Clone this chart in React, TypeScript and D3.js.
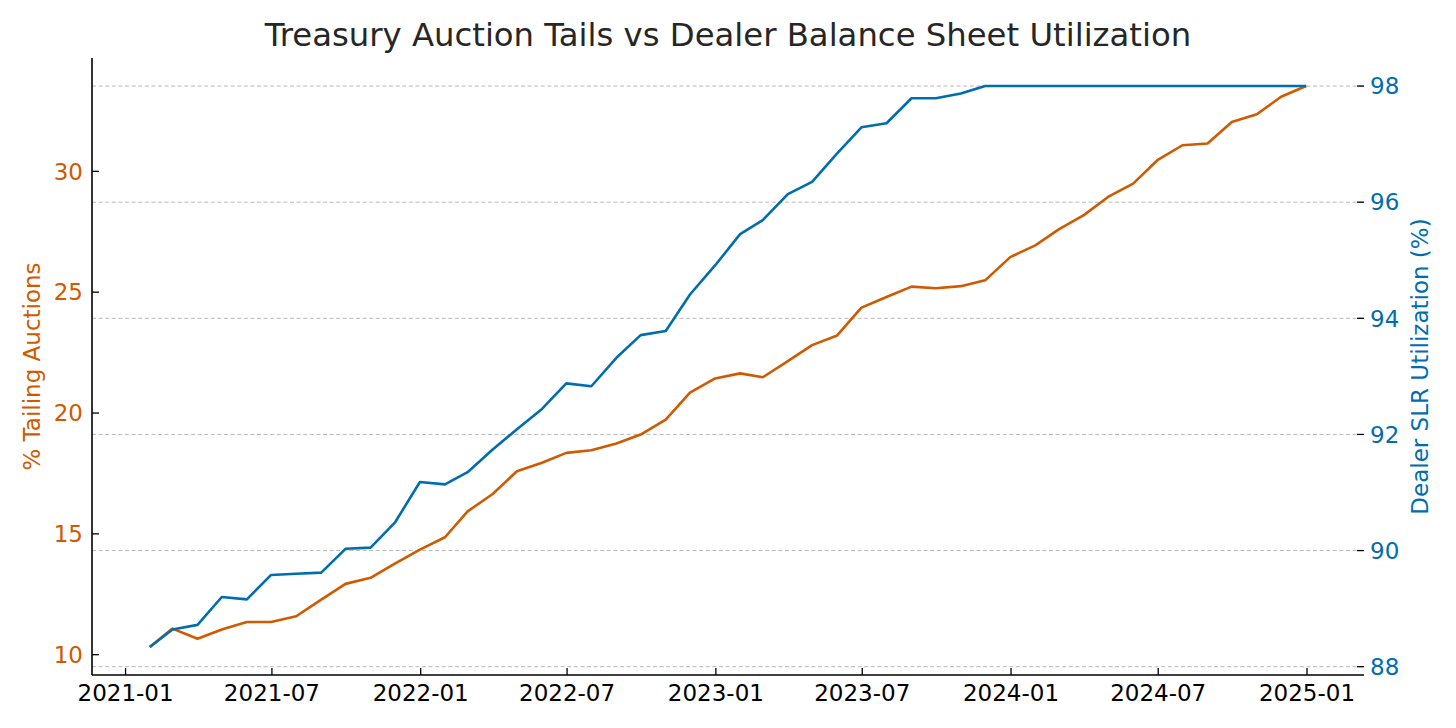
import React from "react";
import * as d3 from "d3";

const months: string[] = [
  "2021-01-31","2021-02-28","2021-03-31","2021-04-30","2021-05-31","2021-06-30",
  "2021-07-31","2021-08-31","2021-09-30","2021-10-31","2021-11-30","2021-12-31",
  "2022-01-31","2022-02-28","2022-03-31","2022-04-30","2022-05-31","2022-06-30",
  "2022-07-31","2022-08-31","2022-09-30","2022-10-31","2022-11-30","2022-12-31",
  "2023-01-31","2023-02-28","2023-03-31","2023-04-30","2023-05-31","2023-06-30",
  "2023-07-31","2023-08-31","2023-09-30","2023-10-31","2023-11-30","2023-12-31",
  "2024-01-31","2024-02-29","2024-03-31","2024-04-30","2024-05-31","2024-06-30",
  "2024-07-31","2024-08-31","2024-09-30","2024-10-31","2024-11-30","2024-12-31",
];

const tailingPct: number[] = [
  10.32, 11.08, 10.66, 11.04, 11.35, 11.35, 11.59, 12.28, 12.93, 13.18, 13.77, 14.35,
  14.86, 15.93, 16.65, 17.59, 17.94, 18.35, 18.46, 18.74, 19.11, 19.73, 20.84, 21.43,
  21.64, 21.48, 22.15, 22.81, 23.21, 24.36, 24.8, 25.23, 25.16, 25.25, 25.49, 26.45,
  26.94, 27.6, 28.19, 28.94, 29.49, 30.46, 31.08, 31.15, 32.04, 32.36, 33.09, 33.53,
];

const slrUtil: number[] = [
  88.34, 88.64, 88.72, 89.2, 89.16, 89.58, 89.6, 89.62, 90.03, 90.05, 90.48, 91.18,
  91.14, 91.35, 91.74, 92.09, 92.44, 92.88, 92.83, 93.32, 93.71, 93.78, 94.41, 94.91,
  95.45, 95.69, 96.14, 96.35, 96.84, 97.29, 97.36, 97.79, 97.79, 97.87, 98.0, 98.0,
  98.0, 98.0, 98.0, 98.0, 98.0, 98.0, 98.0, 98.0, 98.0, 98.0, 98.0, 98.0,
];

const leftTicks: number[] = [10, 15, 20, 25, 30];
const rightTicks: number[] = [88, 90, 92, 94, 96, 98];
const xTickDates: string[] = [
  "2021-01-01","2021-07-01","2022-01-01","2022-07-01","2023-01-01",
  "2023-07-01","2024-01-01","2024-07-01","2025-01-01",
];

const TITLE = "Treasury Auction Tails vs Dealer Balance Sheet Utilization";
const LEFT_LABEL = "% Tailing Auctions";
const RIGHT_LABEL = "Dealer SLR Utilization (%)";

const ORANGE = "#CF5A00";
const BLUE = "#006DB0";
const FONT = "'DejaVu Sans', sans-serif";

function padded(vals: number[]): [number, number] {
  const lo = d3.min(vals) as number;
  const hi = d3.max(vals) as number;
  const m = (hi - lo) * 0.05;
  return [lo - m, hi + m];
}

export default function App() {
  const W = 1456, H = 728;
  const L = 92, R = 1364, T = 58, B = 675;
  const parse = d3.timeParse("%Y-%m-%d");
  const dates = months.map((m) => parse(m) as Date);
  const t0 = dates[0].getTime();
  const t1 = dates[dates.length - 1].getTime();
  const mx = (t1 - t0) * 0.05;
  const x = d3.scaleTime().domain([new Date(t0 - mx), new Date(t1 + mx)]).range([L, R]);
  const yL = d3.scaleLinear().domain(padded(tailingPct)).range([B, T]);
  const yR = d3.scaleLinear().domain(padded(slrUtil)).range([B, T]);
  const fmt = d3.timeFormat("%Y-%m");

  const lineL = d3.line<number>().x((_, i) => x(dates[i])).y((v) => yL(v));
  const lineR = d3.line<number>().x((_, i) => x(dates[i])).y((v) => yR(v));

  return (
    <svg width={W} height={H} style={{ position: "absolute", left: 0, top: 0, background: "#fff" }} fontFamily={FONT}>
      <rect x={0} y={0} width={W} height={H} fill="#fff" />
      {rightTicks.map((t) => (
        <line key={"g" + t} x1={L} x2={R} y1={yR(t)} y2={yR(t)} stroke="#b8b8b8" strokeWidth={1} strokeDasharray="4,2.6" />
      ))}
      <path d={lineL(tailingPct) || ""} fill="none" stroke={ORANGE} strokeWidth={2.6} strokeLinejoin="round" />
      <path d={lineR(slrUtil) || ""} fill="none" stroke={BLUE} strokeWidth={2.6} strokeLinejoin="round" />
      <line x1={L} x2={L} y1={T} y2={B} stroke="#000" strokeWidth={1.6} />
      <line x1={L} x2={R} y1={B} y2={B} stroke="#000" strokeWidth={1.6} />
      {xTickDates.map((s) => {
        const d = parse(s) as Date;
        const px = x(d);
        return (
          <g key={s}>
            <line x1={px} x2={px} y1={B} y2={B - 7} stroke="#000" strokeWidth={1.3} />
            <text x={px} y={701} textAnchor="middle" fontSize={23} fill="#000">{fmt(d)}</text>
          </g>
        );
      })}
      {leftTicks.map((t) => (
        <g key={"l" + t}>
          <line x1={L} x2={L + 7} y1={yL(t)} y2={yL(t)} stroke="#000" strokeWidth={1.3} />
          <text x={83} y={yL(t)} dy="0.36em" textAnchor="end" fontSize={23} fill={ORANGE}>{t}</text>
        </g>
      ))}
      {rightTicks.map((t) => (
        <g key={"r" + t}>
          <line x1={R - 7} x2={R} y1={yR(t)} y2={yR(t)} stroke="#000" strokeWidth={1.3} />
          <text x={1370} y={yR(t)} dy="0.36em" textAnchor="start" fontSize={23} fill={BLUE}>{t}</text>
        </g>
      ))}
      <text transform={`translate(40, ${(T + B) / 2}) rotate(-90)`} textAnchor="middle" fontSize={23} fill={ORANGE}>{LEFT_LABEL}</text>
      <text transform={`translate(1428, ${(T + B) / 2}) rotate(-90)`} textAnchor="middle" fontSize={23} fill={BLUE}>{RIGHT_LABEL}</text>
      <text x={(L + R) / 2} y={46} textAnchor="middle" fontSize={32.3} fill="#262626">{TITLE}</text>
    </svg>
  );
}
